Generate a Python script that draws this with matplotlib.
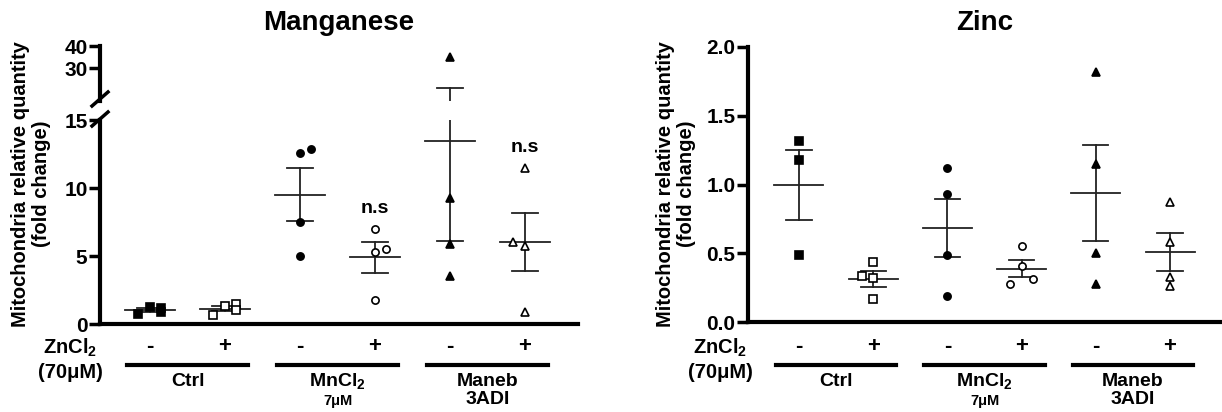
import numpy as np
import matplotlib
matplotlib.use("Agg")
import matplotlib.pyplot as plt
from matplotlib.lines import Line2D
import matplotlib.transforms as mtransforms

plt.rcParams['font.family'] = ['Liberation Sans', 'DejaVu Sans']
plt.rcParams['font.weight'] = 'bold'
plt.rcParams['mathtext.fontset'] = 'custom'
plt.rcParams['mathtext.rm'] = 'Liberation Sans:bold'
plt.rcParams['mathtext.it'] = 'Liberation Sans:bold'
plt.rcParams['mathtext.bf'] = 'Liberation Sans:bold'

# ---------------- data ----------------
conditions = ["Ctrl -", "Ctrl +", "MnCl2 -", "MnCl2 +", "Maneb -", "Maneb +"]
zn_signs = ["-", "+", "-", "+", "-", "+"]
groups = ["Ctrl", "MnCl$_2$", "Maneb"]
group_sub = ["", "7μM", "3ADI"]

mn_ctrl_minus = [0.70, 1.28, 1.20, 0.85]
mn_ctrl_plus = [0.66, 1.35, 1.47, 1.00]
mn_mncl2_minus = [12.6, 12.9, 7.5, 5.0]
mn_mncl2_plus = [7.0, 5.32, 5.51, 1.76]
mn_maneb_minus = [35.2, 9.24, 5.86, 3.53]
mn_maneb_plus = [11.45, 6.05, 5.76, 0.86]
mn_values = [mn_ctrl_minus, mn_ctrl_plus, mn_mncl2_minus, mn_mncl2_plus,
             mn_maneb_minus, mn_maneb_plus]

zn_ctrl_minus = [1.32, 1.18, 0.49]
zn_ctrl_plus = [0.44, 0.333, 0.317, 0.167]
zn_mncl2_minus = [1.12, 0.93, 0.485, 0.188]
zn_mncl2_plus = [0.55, 0.41, 0.28, 0.31]
zn_maneb_minus = [1.82, 1.15, 0.50, 0.28]
zn_maneb_plus = [0.87, 0.58, 0.33, 0.26]
zn_values = [zn_ctrl_minus, zn_ctrl_plus, zn_mncl2_minus, zn_mncl2_plus,
             zn_maneb_minus, zn_maneb_plus]

# horizontal jitter of overlapping points (layout only)
mn_jitter = [[-0.16, 0, 0.15, 0.15], [-0.16, 0, 0.15, 0.15], [0, 0.15, 0, 0],
             [0, 0, 0.15, 0], [0, 0, 0, 0], [0, -0.16, 0, 0]]
zn_jitter = [[0, 0, 0], [0, -0.15, 0, 0], [0, 0, 0, 0],
             [0, 0, -0.15, 0.15], [0, 0, 0, 0], [0, 0, 0, 0]]

markers = ['s', 's', 'o', 'o', '^', '^']
filled = [True, False, True, False, True, False]
msizes = [5.2, 5.2, 5.2, 5.2, 5.5, 5.5]

mn_ns_label = "n.s"
mn_ns_positions = {3: 8.5, 5: 13.0}

# ---------------- figure ----------------
W, H = 1222, 412
fig = plt.figure(figsize=(W / 100, H / 100), dpi=100)


def fx(px):
    return px / W


def fy(py):
    return 1 - py / H


SPINE_LW = 3.0


def draw_groups(ax, values, jitter):
    for i, vals in enumerate(values):
        vals = np.asarray(vals, float)
        xs = i + np.asarray(jitter[i])
        m = vals.mean()
        sem = vals.std(ddof=1) / np.sqrt(len(vals))
        fc = 'black' if filled[i] else 'white'
        ax.plot(xs, vals, linestyle='none', marker=markers[i], ms=msizes[i],
                mfc=fc, mec='black', mew=1.2, zorder=3)
        ax.plot([i, i], [m - sem, m + sem], color='#222222', lw=1.3, zorder=2)
        ax.plot([i - 0.33, i + 0.33], [m, m], color='#222222', lw=1.3, zorder=2)
        ax.plot([i - 0.17, i + 0.17], [m + sem, m + sem], color='#222222', lw=1.3, zorder=2)
        ax.plot([i - 0.17, i + 0.17], [m - sem, m - sem], color='#222222', lw=1.3, zorder=2)


def style_axis(ax, bottom=True):
    for s in ['top', 'right']:
        ax.spines[s].set_visible(False)
    ax.spines['left'].set_linewidth(SPINE_LW)
    ax.spines['bottom'].set_linewidth(SPINE_LW if bottom else 0)
    ax.spines['bottom'].set_visible(bottom)
    ax.tick_params(axis='y', length=8, width=2.5, labelsize=15, pad=1)
    ax.tick_params(axis='x', length=0, labelbottom=False)
    ax.set_xticks([])
    for lab in ax.get_yticklabels():
        lab.set_fontweight('bold')


def bottom_labels(ax, row_label_x):
    trans = mtransforms.blended_transform_factory(ax.transData, fig.transFigure)
    for i, sgn in enumerate(zn_signs):
        ax.text(i, fy(347), sgn, transform=trans, ha='center', va='center',
                fontsize=16, fontweight='bold', clip_on=False)
    for g in range(3):
        i0, i1 = 2 * g, 2 * g + 1
        ax.add_line(Line2D([i0 - 0.31, i1 + 0.31], [fy(365), fy(365)], transform=trans,
                           color='black', lw=3, clip_on=False))
        ax.text((i0 + i1) / 2, fy(381), groups[g], transform=trans, ha='center', va='center',
                fontsize=14, fontweight='bold', clip_on=False)
        if group_sub[g]:
            fs = 10.5 if g == 1 else 14
            yy = 401 if g == 1 else 399
            ax.text((i0 + i1) / 2, fy(yy), group_sub[g], transform=trans, ha='center',
                    va='center', fontsize=fs, fontweight='bold', clip_on=False)
    fig.text(fx(row_label_x), fy(348), "ZnCl$_2$", ha='center', va='center',
             fontsize=14.5, fontweight='bold')
    fig.text(fx(row_label_x), fy(373), "(70μM)", ha='center', va='center',
             fontsize=14.5, fontweight='bold')


ylabel = "Mitochondria relative quantity\n(fold change)"

# ---------- Manganese (broken axis) ----------
L, R = 100, 578
ax_lo = fig.add_axes([fx(L), fy(324), fx(R) - fx(L), fy(120) - fy(324)])
ax_hi = fig.add_axes([fx(L), fy(101), fx(R) - fx(L), fy(46) - fy(101)])
xlim_l = (-0.667, 5.707)
for ax in (ax_lo, ax_hi):
    ax.set_xlim(*xlim_l)
    ax.patch.set_alpha(0)
    draw_groups(ax, mn_values, mn_jitter)
ax_lo.set_ylim(0, 15)
ax_lo.set_yticks([0, 5, 10, 15])
ax_hi.set_ylim(15, 40)
ax_hi.set_yticks([30, 40])
style_axis(ax_lo, bottom=True)
style_axis(ax_hi, bottom=False)

for idx, yv in mn_ns_positions.items():
    ax_lo.text(idx, yv, mn_ns_label, ha='center', va='center', fontsize=14, fontweight='bold')

# break marks
for cy in (99, 119):
    fig.add_artist(Line2D([fx(92), fx(108)], [fy(cy + 7), fy(cy - 7)],
                          transform=fig.transFigure, color='black', lw=2.5))

fig.text(fx(339), fy(23), "Manganese", ha='center', va='center', fontsize=20, fontweight='bold')
fig.text(fx(31), fy(184), ylabel, rotation=90, ha='center', va='center',
         fontsize=14.5, fontweight='bold', multialignment='center', linespacing=1.1)
bottom_labels(ax_lo, 70)

# ---------- Zinc ----------
L2, R2 = 748, 1222
ax_z = fig.add_axes([fx(L2), fy(322), fx(R2) - fx(L2), fy(47) - fy(322)])
ax_z.set_xlim(-0.687, 5.70)
ax_z.set_ylim(0, 2.0)
ax_z.set_yticks([0.0, 0.5, 1.0, 1.5, 2.0])
ax_z.set_yticklabels(["0.0", "0.5", "1.0", "1.5", "2.0"])
ax_z.patch.set_alpha(0)
draw_groups(ax_z, zn_values, zn_jitter)
style_axis(ax_z, bottom=True)
fig.text(fx(985), fy(23), "Zinc", ha='center', va='center', fontsize=20, fontweight='bold')
fig.text(fx(676), fy(184), ylabel, rotation=90, ha='center', va='center',
         fontsize=14.5, fontweight='bold', multialignment='center', linespacing=1.1)
bottom_labels(ax_z, 720)

fig.savefig("out.png", dpi=100)
